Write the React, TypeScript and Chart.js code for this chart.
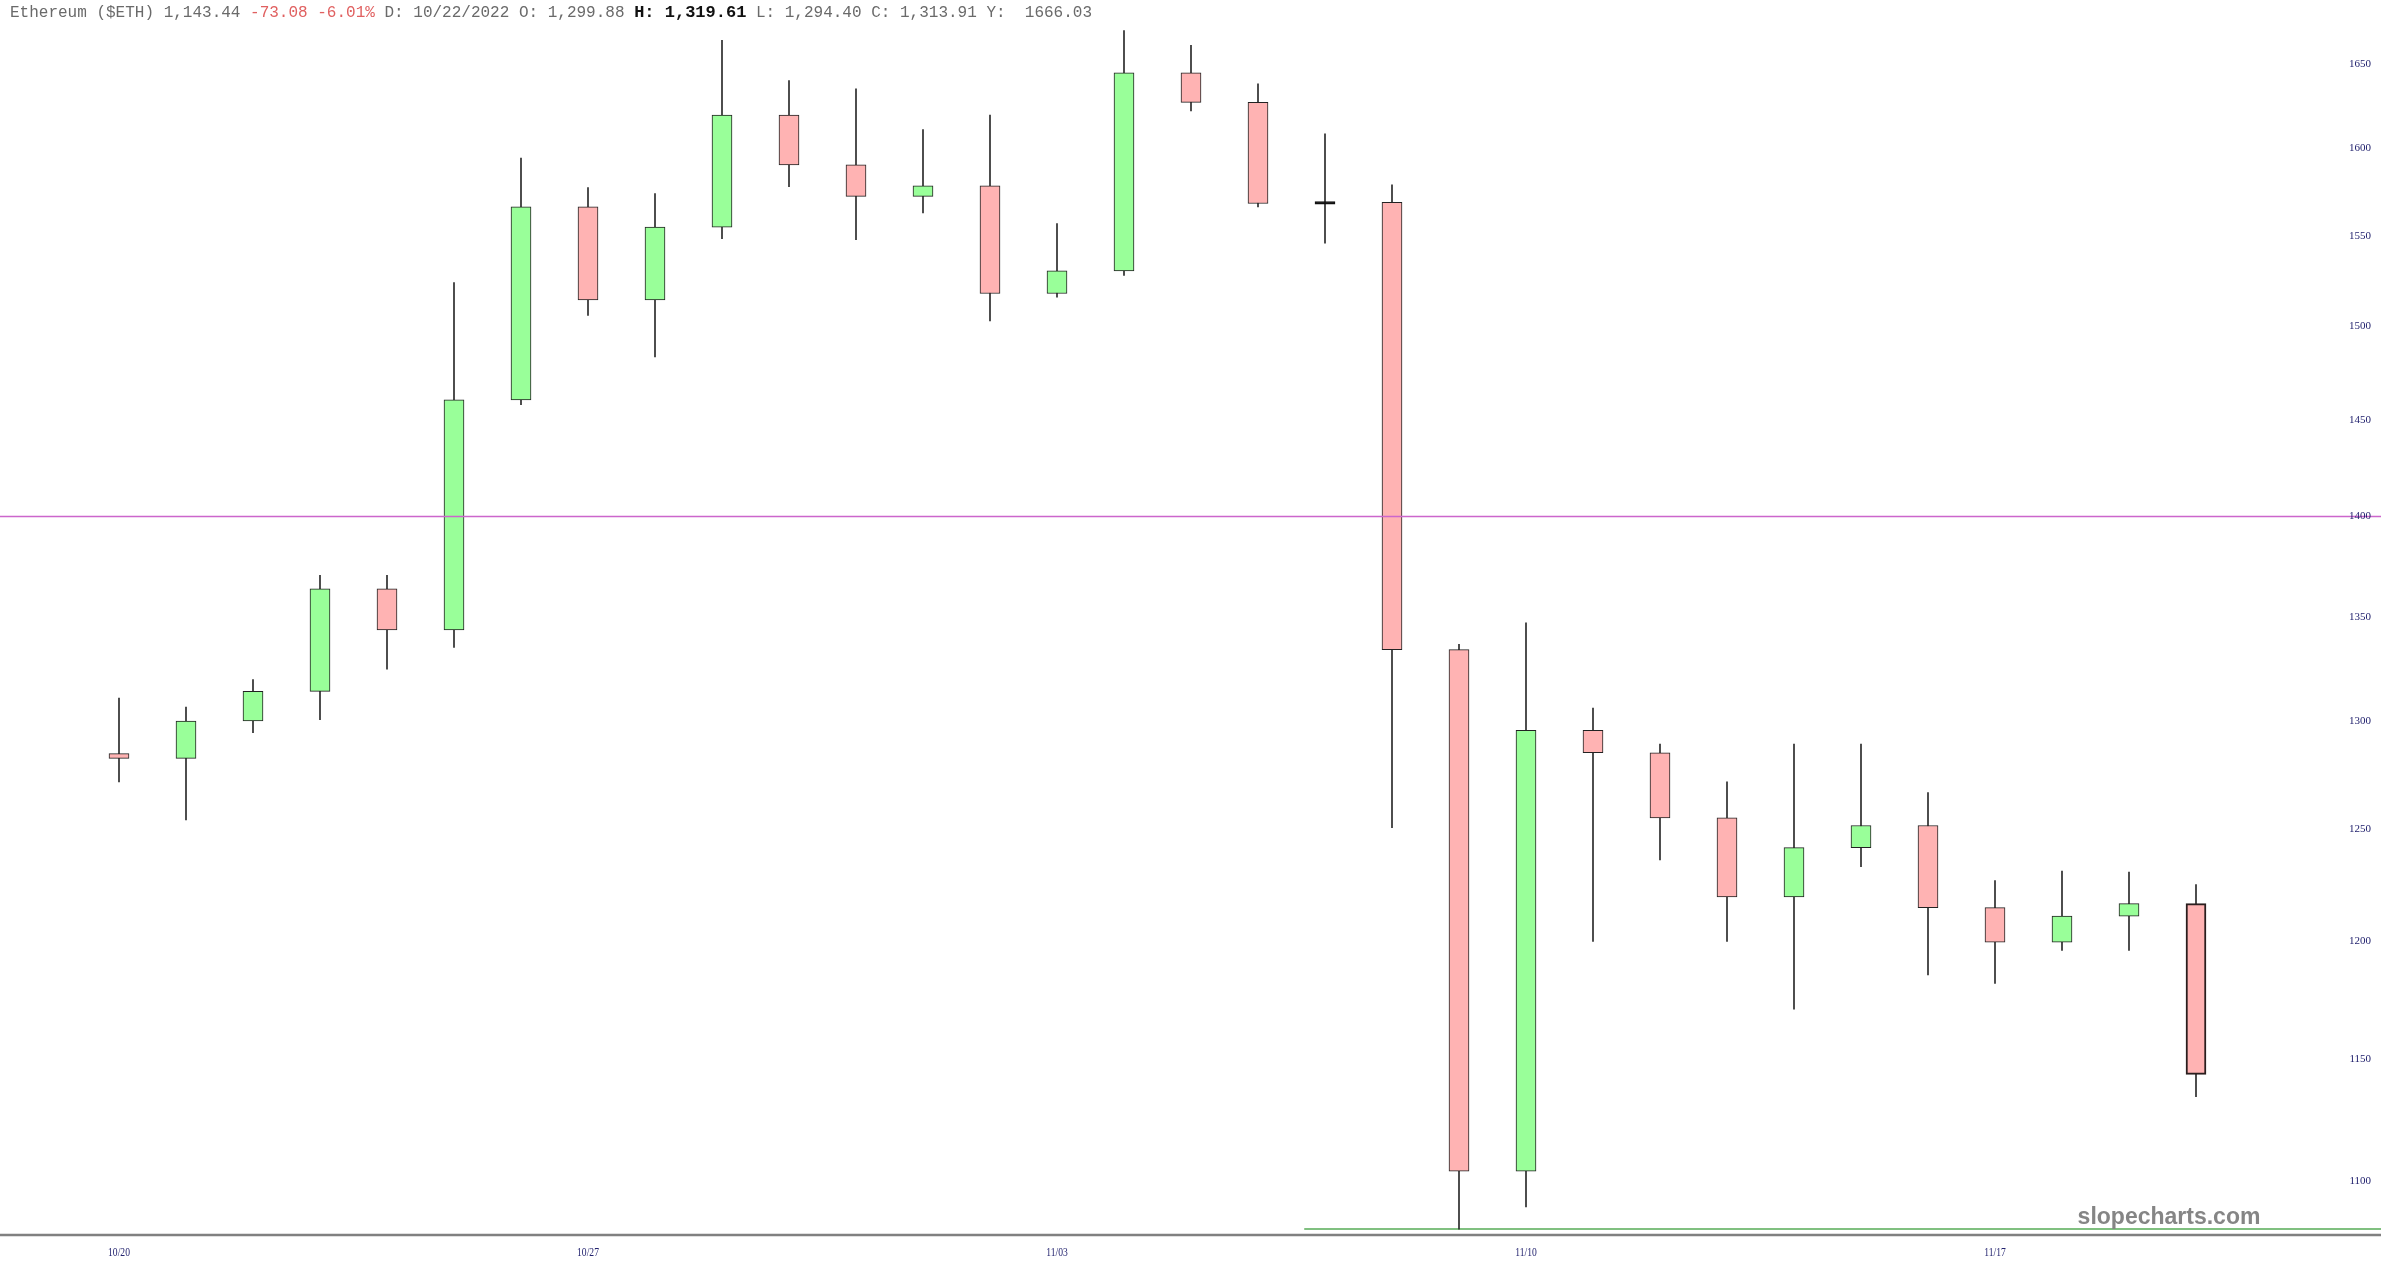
import React, { useEffect, useRef } from 'react';
import { Chart, registerables } from 'chart.js';

Chart.register(...registerables);

// ---- data ----
const DATES = [
  '10/20', '10/21', '10/22', '10/23', '10/24', '10/25', '10/26', '10/27', '10/28', '10/29', '10/30', '10/31',
  '11/01', '11/02', '11/03', '11/04', '11/05', '11/06', '11/07', '11/08', '11/09', '11/10', '11/11', '11/12',
  '11/13', '11/14', '11/15', '11/16', '11/17', '11/18', '11/19', '11/20',
];
const OPEN = [
  1284.6, 1282.4, 1299.88, 1313.91, 1363.8, 1343.5, 1460.5, 1566.5, 1514.5, 1555.0, 1619.5, 1590.5,
  1572.5, 1578.5, 1518.0, 1530.5, 1644.5, 1627.0, 1568.0, 1569.0, 1334.0, 1104.0, 1295.5, 1285.0,
  1255.0, 1219.5, 1241.5, 1251.5, 1214.8, 1199.6, 1211.0, 1216.52,
];
const HIGH = [
  1310.7, 1306.5, 1319.61, 1370.5, 1370.5, 1524.0, 1594.5, 1577.5, 1574.0, 1664.0, 1640.0, 1635.0,
  1611.0, 1619.5, 1557.0, 1670.0, 1661.0, 1638.0, 1608.5, 1579.0, 1336.5, 1347.0, 1306.0, 1289.0,
  1271.5, 1289.0, 1289.0, 1266.5, 1226.7, 1231.0, 1230.5, 1225.0,
];
const LOW = [
  1271.5, 1254.0, 1294.40, 1300.5, 1324.5, 1335.0, 1458.0, 1506.0, 1483.5, 1548.5, 1578.0, 1548.0,
  1563.0, 1503.0, 1516.0, 1528.0, 1622.0, 1566.5, 1546.0, 1250.5, 1081.0, 1089.7, 1200.0, 1236.0,
  1200.0, 1170.8, 1233.0, 1185.5, 1181.8, 1196.0, 1196.0, 1134.2,
];
const CLOSE = [
  1282.4, 1299.88, 1313.91, 1363.8, 1343.5, 1460.5, 1566.5, 1514.5, 1555.0, 1619.5, 1590.5, 1572.5,
  1578.5, 1518.0, 1530.5, 1644.5, 1627.0, 1568.4, 1569.5, 1334.0, 1104.0, 1295.5, 1285.0, 1255.0,
  1219.5, 1241.5, 1251.5, 1214.8, 1199.6, 1211.0, 1216.52, 1143.44,
];
const Y_TICKS = [1100, 1150, 1200, 1250, 1300, 1350, 1400, 1450, 1500, 1550, 1600, 1650];
const X_TICK_LABELS = ['10/20', '10/27', '11/03', '11/10', '11/17'];
const Y_MIN = 1078.7;
const Y_MAX = 1688.6;
const RESISTANCE_LEVEL = 1400;
const SUPPORT_LEVEL = 1081.1;
const SUPPORT_START_INDEX = 17.69;

const UP_FILL = '#99ff99';
const DOWN_FILL = '#ffb3b3';

const overlayPlugin = {
  id: 'overlay',
  beforeDatasetsDraw(chart: any) {
    const { ctx, scales } = chart;
    const y = scales.y;
    const x = scales.x;
    const W = chart.width;
    ctx.save();
    // support line (green)
    const ys = y.getPixelForValue(SUPPORT_LEVEL);
    ctx.strokeStyle = '#80c080';
    ctx.lineWidth = 2;
    ctx.beginPath();
    ctx.moveTo(x.getPixelForValue(SUPPORT_START_INDEX), ys);
    ctx.lineTo(W, ys);
    ctx.stroke();
    ctx.restore();
  },
  afterDatasetsDraw(chart: any) {
    const { ctx, scales, chartArea } = chart;
    const y = scales.y;
    const x = scales.x;
    const W = chart.width;
    ctx.save();
    // resistance line (magenta)
    const yr = y.getPixelForValue(RESISTANCE_LEVEL);
    ctx.strokeStyle = '#cc66cc';
    ctx.lineWidth = 1.5;
    ctx.beginPath();
    ctx.moveTo(0, yr);
    ctx.lineTo(W, yr);
    ctx.stroke();

    // bottom axis line
    ctx.strokeStyle = '#808080';
    ctx.lineWidth = 2.5;
    ctx.beginPath();
    ctx.moveTo(0, chartArea.bottom);
    ctx.lineTo(W, chartArea.bottom);
    ctx.stroke();

    // y tick labels
    ctx.fillStyle = '#22226e';
    ctx.font = '11px "Liberation Serif", serif';
    ctx.textAlign = 'right';
    ctx.textBaseline = 'middle';
    for (const v of Y_TICKS) {
      ctx.fillText(String(v), 2371, y.getPixelForValue(v));
    }

    // x tick labels
    ctx.textAlign = 'center';
    for (const lab of X_TICK_LABELS) {
      const idx = DATES.indexOf(lab);
      const px = x.getPixelForValue(idx);
      ctx.save();
      ctx.translate(px, chartArea.bottom + 18);
      ctx.scale(0.8, 1);
      ctx.font = '12px "Liberation Serif", serif';
      ctx.fillText(lab, 0, 0);
      ctx.restore();
    }

    // watermark
    ctx.fillStyle = '#858585';
    ctx.font = 'bold 23px "Liberation Sans", Arial, sans-serif';
    ctx.textAlign = 'center';
    ctx.textBaseline = 'middle';
    ctx.fillText('slopecharts.com', 2169, 1218);
    ctx.restore();
  },
};

export default function App() {
  const ref = useRef<HTMLCanvasElement>(null);
  useEffect(() => {
    const canvas = ref.current;
    if (!canvas) return;
    const last = DATES.length - 1;
    const up = DATES.map((_, i) => CLOSE[i] >= OPEN[i]);
    const doji = DATES.map((_, i) => Math.abs(CLOSE[i] - OPEN[i]) < 2);
    const chart = new Chart(canvas, {
      type: 'bar',
      data: {
        labels: DATES,
        datasets: [
          {
            label: 'body',
            data: DATES.map((_, i) => [OPEN[i], CLOSE[i]]) as any,
            backgroundColor: DATES.map((_, i) => (doji[i] ? '#111111' : up[i] ? UP_FILL : DOWN_FILL)),
            borderColor: DATES.map((_, i) => (i === last ? '#2a1e1e' : doji[i] ? '#111111' : '#222222')),
            borderWidth: DATES.map((_, i) => (i === last ? 2 : 1)) as any,
            borderSkipped: false,
            barThickness: 20,
            grouped: false,
            order: 0,
          } as any,
          {
            label: 'wick',
            data: DATES.map((_, i) => [LOW[i], HIGH[i]]) as any,
            backgroundColor: '#2a2a2a',
            borderWidth: 0,
            barThickness: 1,
            grouped: false,
            order: 1,
          } as any,
        ],
      },
      options: {
        responsive: false,
        animation: false,
        devicePixelRatio: 1,
        layout: { padding: { left: 85.5, right: 151.5, top: 0, bottom: 40 } },
        plugins: { legend: { display: false }, tooltip: { enabled: false } },
        scales: {
          x: { type: 'category', display: false, offset: true, grid: { display: false } },
          y: { type: 'logarithmic', display: false, min: Y_MIN, max: Y_MAX },
        },
      } as any,
      plugins: [overlayPlugin],
    });
    return () => chart.destroy();
  }, []);

  const gray = '#6a6a6a';
  return (
    <div style={{ position: 'absolute', left: 0, top: 0, width: 2381, height: 1275, background: '#ffffff', overflow: 'hidden' }}>
      <canvas ref={ref} width={2381} height={1275} style={{ display: 'block', width: 2381, height: 1275 }} />
      <div
        style={{
          position: 'absolute',
          left: 10,
          top: 3,
          fontFamily: '"Liberation Mono", "DejaVu Sans Mono", monospace',
          fontSize: 16,
          lineHeight: '20px',
          color: gray,
          whiteSpace: 'pre',
        }}
      >
        <span>Ethereum ($ETH) 1,143.44 </span>
        <span style={{ color: '#e06060' }}>-73.08 -6.01%</span>
        <span> D: 10/22/2022 O: 1,299.88 </span>
        <span style={{ color: '#111111', fontWeight: 'bold', fontSize: 17 }}>H: 1,319.61</span>
        <span> L: 1,294.40 C: 1,313.91 Y:  1666.03</span>
      </div>
    </div>
  );
}
